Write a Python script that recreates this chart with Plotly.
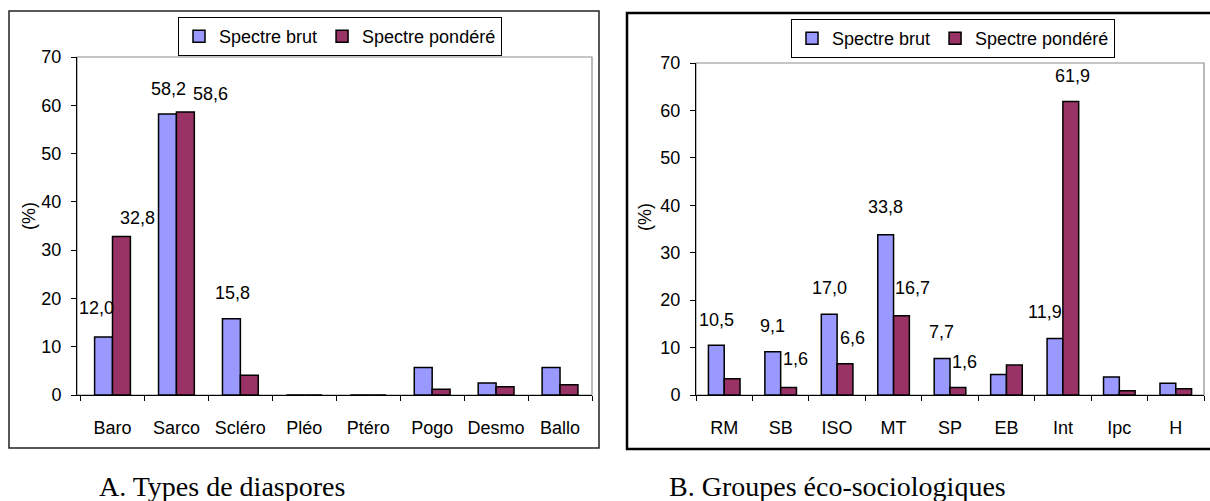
import plotly.graph_objects as go

# ---------------- data ----------------
cats_a = ["Baro", "Sarco", "Scléro", "Pléo", "Ptéro", "Pogo", "Desmo", "Ballo"]
brut_a = [12.0, 58.2, 15.8, 0, 0, 5.7, 2.5, 5.7]
pond_a = [32.8, 58.6, 4.1, 0, 0, 1.2, 1.7, 2.1]

cats_b = ["RM", "SB", "ISO", "MT", "SP", "EB", "Int", "Ipc", "H"]
brut_b = [10.5, 9.1, 17.0, 33.8, 7.7, 4.3, 11.9, 3.8, 2.5]
pond_b = [3.4, 1.6, 6.6, 16.7, 1.6, 6.3, 61.9, 0.9, 1.3]

series_names = ["Spectre brut", "Spectre pondéré"]
y_ticks = [0, 10, 20, 30, 40, 50, 60, 70]
y_title = "(%)"
caption_a = "A. Types de diaspores"
caption_b = "B. Groupes éco-sociologiques"

# which bars carry a value label, with a pixel nudge (dx, dy) from the bar top
labels_a = {
    (0, "Baro"): (-16, 29), (1, "Baro"): (25, 19),
    (0, "Sarco"): (-8, 25), (1, "Sarco"): (34, 18),
    (0, "Scléro"): (-8, 26),
}
labels_b = {
    (0, "RM"): (-8, 25),
    (0, "SB"): (-8, 26), (1, "SB"): (15, 28),
    (0, "ISO"): (-8, 26), (1, "ISO"): (15, 26),
    (0, "MT"): (-8, 28), (1, "MT"): (19, 28),
    (0, "SP"): (-8, 26), (1, "SP"): (15, 25),
    (0, "Int"): (-18, 27), (1, "Int"): (10, 25),
}

# ---------------- style ----------------
W, H = 1210, 501
colors = ["#9999FF", "#993366"]
FONT = "Liberation Sans, Arial, sans-serif"
FS = 18
SERIF = "Liberation Serif, Times New Roman, serif"


def fx(px):
    return px / W


def fy(py):
    return 1 - py / H


# plot areas (pixels)
A_box = (77, 592, 57, 395)
B_box = (696, 1204, 63, 395)

fig = go.Figure()

for i, (name, vals) in enumerate(zip(series_names, [brut_a, pond_a])):
    fig.add_trace(go.Bar(
        x=cats_a, y=vals, name=name, xaxis="x", yaxis="y",
        marker=dict(color=colors[i], line=dict(color="black", width=1.5)),
        legend="legend", hoverinfo="x+y",
    ))
for i, (name, vals) in enumerate(zip(series_names, [brut_b, pond_b])):
    fig.add_trace(go.Bar(
        x=cats_b, y=vals, name=name, xaxis="x2", yaxis="y2",
        marker=dict(color=colors[i], line=dict(color="black", width=1.5)),
        legend="legend2", hoverinfo="x+y",
    ))


def fmt(v):
    return f"{v:.1f}".replace(".", ",")


annotations = []
for (s, c), (dx, dy) in labels_a.items():
    v = [brut_a, pond_a][s][cats_a.index(c)]
    annotations.append(dict(x=c, y=v, xref="x", yref="y", text=fmt(v),
                            showarrow=False, xshift=dx, yshift=dy,
                            xanchor="center", yanchor="middle",
                            font=dict(family=FONT, size=FS, color="black")))
for (s, c), (dx, dy) in labels_b.items():
    v = [brut_b, pond_b][s][cats_b.index(c)]
    annotations.append(dict(x=c, y=v, xref="x2", yref="y2", text=fmt(v),
                            showarrow=False, xshift=dx, yshift=dy,
                            xanchor="center", yanchor="middle",
                            font=dict(family=FONT, size=FS, color="black")))

# y titles
annotations.append(dict(x=fx(29), y=fy(216), xref="paper", yref="paper", text=y_title,
                        textangle=-90, showarrow=False, xanchor="center", yanchor="middle",
                        font=dict(family=FONT, size=FS, color="black")))
annotations.append(dict(x=fx(645), y=fy(217), xref="paper", yref="paper", text=y_title,
                        textangle=-90, showarrow=False, xanchor="center", yanchor="middle",
                        font=dict(family=FONT, size=FS, color="black")))
# captions
annotations.append(dict(x=fx(222), y=fy(486), xref="paper", yref="paper", text=caption_a,
                        showarrow=False, xanchor="center", yanchor="middle",
                        font=dict(family=SERIF, size=28, color="black")))
annotations.append(dict(x=fx(837), y=fy(486), xref="paper", yref="paper", text=caption_b,
                        showarrow=False, xanchor="center", yanchor="middle",
                        font=dict(family=SERIF, size=28, color="black")))

shapes = [
    # outer chart boxes
    dict(type="rect", xref="paper", yref="paper", x0=fx(9), x1=fx(599), y0=fy(448), y1=fy(11),
         line=dict(color="#222222", width=1.5), layer="below"),
    dict(type="rect", xref="paper", yref="paper", x0=fx(627), x1=fx(1240), y0=fy(449), y1=fy(13),
         line=dict(color="black", width=2.5), layer="below"),
    # plot-area borders
    dict(type="rect", xref="x domain", yref="y domain", x0=0, x1=1, y0=0, y1=1,
         line=dict(color="#8c8c8c", width=1.2), layer="below"),
    dict(type="rect", xref="x2 domain", yref="y2 domain", x0=0, x1=1, y0=0, y1=1,
         line=dict(color="#8c8c8c", width=1.2), layer="below"),
]

xaxis_common = dict(type="category", showline=True, linecolor="black", linewidth=1,
                    ticks="outside", tickson="boundaries", ticklen=5, tickcolor="black",
                    showgrid=False, zeroline=False, ticklabelstandoff=16, tickangle=0,
                    automargin=False,
                    tickfont=dict(family=FONT, size=FS, color="black"), fixedrange=True)
yaxis_common = dict(range=[0, 70], tickvals=y_ticks, showline=True, linecolor="black",
                    linewidth=1, ticks="outside", ticklen=5, tickcolor="black",
                    showgrid=False, zeroline=False, ticklabelstandoff=6, automargin=False,
                    tickfont=dict(family=FONT, size=FS, color="black"), fixedrange=True)

legend_common = dict(orientation="h", bgcolor="white", bordercolor="black", borderwidth=1,
                     font=dict(family=FONT, size=FS, color="black"),
                     xanchor="center", yanchor="top", itemwidth=30,
                     traceorder="normal")

fig.update_layout(
    template="none",
    width=W, height=H,
    margin=dict(l=0, r=0, t=0, b=0, pad=0, autoexpand=False),
    paper_bgcolor="white", plot_bgcolor="white",
    barmode="group",
    bargap=0.44,
    showlegend=True,
    xaxis=dict(domain=[fx(A_box[0]), fx(A_box[1])], anchor="y", **xaxis_common),
    yaxis=dict(domain=[fy(A_box[3]), fy(A_box[2])], anchor="x", **yaxis_common),
    xaxis2=dict(domain=[fx(B_box[0]), fx(B_box[1])], anchor="y2", **xaxis_common),
    yaxis2=dict(domain=[fy(B_box[3]), fy(B_box[2])], anchor="x2", **yaxis_common),
    legend=dict(x=fx(340), y=fy(17), **legend_common),
    legend2=dict(x=fx(953), y=fy(19), **legend_common),
    annotations=annotations,
    shapes=shapes,
)

fig.write_html("out.html")
